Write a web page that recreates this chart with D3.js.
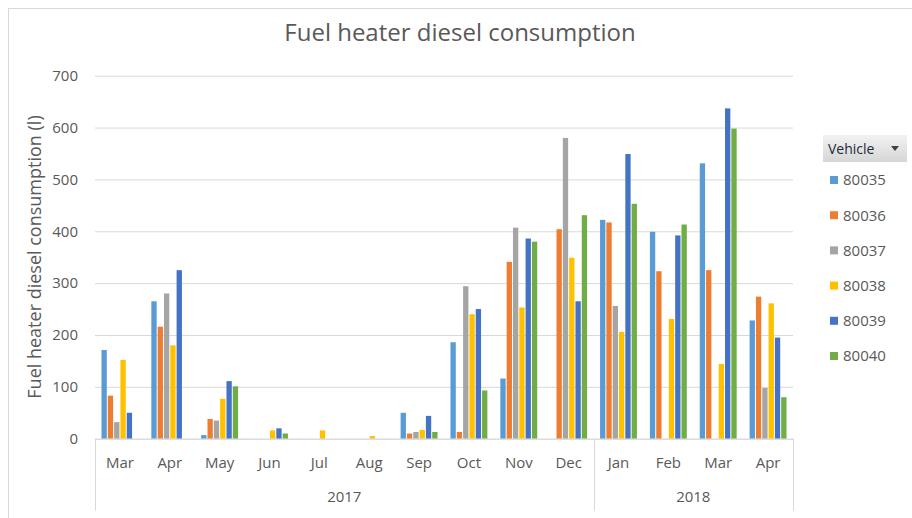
<!DOCTYPE html>
<html>
<head>
<meta charset="utf-8">
<script src="https://cdn.jsdelivr.net/npm/d3@7/dist/d3.min.js"></script>
<style>
  body { margin: 0; background: #fff; }
  svg { display: block; font-family: "Open Sans", sans-serif; }
</style>
</head>
<body>
<div class="container"></div>
<script>
// DATA
// month labels on the first axis level, year of each month for the second level
const months = ["Mar", "Apr", "May", "Jun", "Jul", "Aug", "Sep", "Oct", "Nov", "Dec", "Jan", "Feb", "Mar", "Apr"];
const monthYears = ["2017", "2017", "2017", "2017", "2017", "2017", "2017", "2017", "2017", "2017", "2018", "2018", "2018", "2018"];
const years = ["2017", "2018"];
const vehicles = ["80035", "80036", "80037", "80038", "80039", "80040"];

// litres per vehicle, one value per month (0 = no bar)
const v80035 = [171, 265, 7, 0, 0, 0, 50, 186, 116, 0, 422, 399, 531, 228];
const v80036 = [83, 216, 38, 0, 0, 0, 10, 13, 341, 404, 417, 323, 325, 274];
const v80037 = [32, 280, 35, 0, 0, 0, 13, 294, 407, 580, 256, 0, 0, 98];
const v80038 = [152, 180, 77, 16, 16, 5, 17, 240, 253, 349, 206, 231, 144, 261];
const v80039 = [50, 325, 111, 20, 0, 0, 44, 250, 386, 265, 549, 392, 637, 195];
const v80040 = [0, 0, 101, 10, 0, 0, 13, 93, 380, 431, 453, 413, 598, 80];
const series = [v80035, v80036, v80037, v80038, v80039, v80040];

const yTicks = [0, 100, 200, 300, 400, 500, 600, 700];
const colors = ["#5B9BD5", "#ED7D31", "#A5A5A5", "#FFC000", "#4472C4", "#70AD47"];

// FRAME
const margin = { top: 75.7, right: 119, bottom: 79.3, left: 95 };
const W = 912, H = 518;
const width = W - margin.left - margin.right,
      height = H - margin.top - margin.bottom;

const svg = d3.select(".container")
  .append("svg")
  .attr("width", W)
  .attr("height", H);

// outer chart border (right and bottom edges fall outside the picture)
svg.append("rect")
  .attr("x", 8.5).attr("y", 8.5)
  .attr("width", 1000).attr("height", 1000)
  .attr("fill", "none")
  .attr("stroke", "#d9d9d9");

// TITLE
svg.append("text")
  .attr("x", 460)
  .attr("y", 41)
  .attr("text-anchor", "middle")
  .attr("fill", "#595959")
  .style("font-size", "24px")
  .text("Fuel heater diesel consumption");

const g = svg.append("g")
  .attr("transform", `translate(${margin.left}, ${margin.top})`);

// SCALES
const keys = months.map((m, i) => `${monthYears[i]}-${m}`);

const x0 = d3.scaleBand()
  .domain(keys)
  .range([0, width])
  .paddingInner(0.24)
  .paddingOuter(0.12);

const x1 = d3.scaleBand()
  .domain(vehicles)
  .range([0, x0.bandwidth()]);

const y = d3.scaleLinear()
  .domain([0, 700])
  .range([height, 0]);

// GRID + Y AXIS
const yAxis = g.append("g")
  .call(d3.axisLeft(y).tickValues(yTicks).tickSize(-width).tickPadding(17))
  .call(a => a.select(".domain").remove());
yAxis.selectAll(".tick line").attr("stroke", "#d9d9d9");
yAxis.selectAll(".tick text")
  .attr("fill", "#595959")
  .style("font-size", "15px")
  .style("font-family", "'Open Sans', sans-serif");

svg.append("text")
  .attr("transform", `translate(41, 257) rotate(-90)`)
  .attr("text-anchor", "middle")
  .attr("fill", "#595959")
  .style("font-size", "18px")
  .text("Fuel heater diesel consumption (l)");

// BARS
const cells = [];
series.forEach((vals, s) => vals.forEach((v, i) => cells.push({ key: keys[i], vehicle: vehicles[s], value: v, s })));

g.append("g")
  .selectAll("rect")
  .data(cells.filter(d => d.value > 0))
  .join("rect")
  .attr("x", d => x0(d.key) + x1(d.vehicle) + 0.5)
  .attr("y", d => y(d.value))
  .attr("width", x1.bandwidth() - 1)
  .attr("height", d => height - y(d.value))
  .attr("fill", d => colors[d.s]);

// CATEGORY AXIS (two levels: month, year)
const edge = key => x0(key) - x0.step() * 0.12;
const lineColor = "#d9d9d9";
const axisBottom = 72;

g.append("line")
  .attr("x1", 0).attr("x2", width)
  .attr("y1", height + 0.5).attr("y2", height + 0.5)
  .attr("stroke", lineColor);

g.append("g")
  .selectAll("text")
  .data(keys)
  .join("text")
  .attr("x", d => x0(d) + x0.bandwidth() / 2)
  .attr("y", height + 29)
  .attr("text-anchor", "middle")
  .attr("fill", "#595959")
  .style("font-size", "15px")
  .text((d, i) => months[i]);

// year boundaries: left edge, between the years, right edge
const yearSpans = years.map(yr => {
  const ks = keys.filter((k, i) => monthYears[i] === yr);
  return { yr, x0: edge(ks[0]), x1: edge(ks[ks.length - 1]) + x0.step() };
});

const bounds = [yearSpans[0].x0, ...yearSpans.map(d => d.x1)];
g.append("g")
  .selectAll("line")
  .data(bounds)
  .join("line")
  .attr("x1", d => Math.round(d) + 0.5).attr("x2", d => Math.round(d) + 0.5)
  .attr("y1", height).attr("y2", height + axisBottom)
  .attr("stroke", lineColor);

g.append("g")
  .selectAll("text")
  .data(yearSpans)
  .join("text")
  .attr("x", d => (d.x0 + d.x1) / 2)
  .attr("y", height + 63)
  .attr("text-anchor", "middle")
  .attr("fill", "#595959")
  .style("font-size", "15px")
  .text(d => d.yr);

// LEGEND
const defs = svg.append("defs");
const grad = defs.append("linearGradient")
  .attr("id", "btn").attr("x1", 0).attr("y1", 0).attr("x2", 0).attr("y2", 1);
grad.append("stop").attr("offset", "0%").attr("stop-color", "#f2f2f2");
grad.append("stop").attr("offset", "100%").attr("stop-color", "#d6d6d6");

const legend = svg.append("g").attr("transform", "translate(823, 135)");
legend.append("rect")
  .attr("width", 84).attr("height", 27)
  .attr("fill", "url(#btn)");
legend.append("text")
  .attr("x", 5).attr("y", 19)
  .attr("fill", "#1f2a3a")
  .style("font-size", "14px")
  .text("Vehicle");
legend.append("path")
  .attr("d", "M68,11 L76,11 L72,16 Z")
  .attr("fill", "#404040");

const items = svg.append("g")
  .selectAll("g")
  .data(vehicles)
  .join("g")
  .attr("transform", (d, i) => `translate(830, ${180 + i * 35.2})`);
items.append("rect")
  .attr("x", 0).attr("y", -4)
  .attr("width", 8).attr("height", 8)
  .attr("fill", (d, i) => colors[i]);
items.append("text")
  .attr("x", 13).attr("y", 0)
  .attr("dy", "0.36em")
  .attr("fill", "#595959")
  .style("font-size", "15px")
  .text(d => d);
</script>
</body>
</html>
